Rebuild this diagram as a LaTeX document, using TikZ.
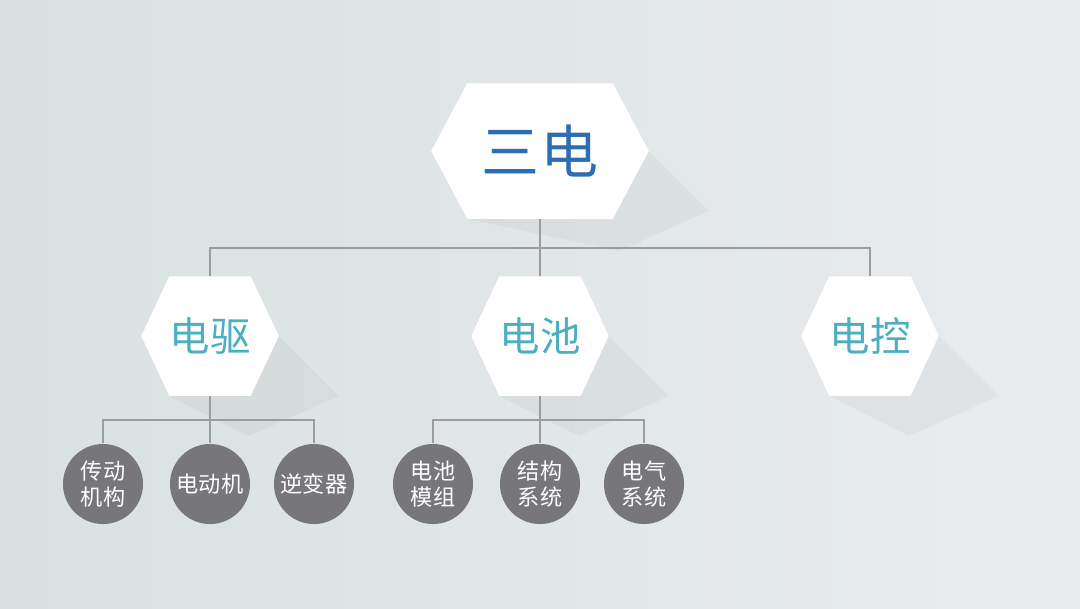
\documentclass[tikz,border=0pt]{standalone}
\usepackage{fontspec}
\setmainfont{Noto Sans CJK SC}
\usetikzlibrary{positioning,calc}
\definecolor{bgleft}{HTML}{D9E1E1}
\definecolor{bgright}{HTML}{E9ECEF}
\definecolor{topblue}{HTML}{2E6DB4}
\definecolor{teal}{HTML}{4BAFC0}
\definecolor{leafgray}{HTML}{77777B}
\definecolor{linkgray}{HTML}{9C9C9C}
\tikzset{
  hexbox/.style={rectangle, inner sep=0pt},
  leaf/.style={circle, fill=leafgray, minimum size=0.8cm, inner sep=0pt,
               text=white, font=\fontsize{6.3}{7.2}\selectfont, align=center},
  link/.style={draw=linkgray, line width=0.6pt},
}
% hexagon with its box node: name, x, y, half width, half height, inset
\newcommand{\hexa}[6]{%
  \node[hexbox, minimum width=#4*0.02cm, minimum height=#5*0.02cm] (#1) at (#2,#3) {};
  \fill[black, opacity=0.03] ($(#1.north east)+(-#6,0)$) -- ($(#1.east)$) -- ++(60,60) -- ++(-90,40) -- ($(#1.south west)+(#6,0)$) -- cycle;
  \fill[white] (#1.west) -- ($(#1.north west)+(#6,0)$) -- ($(#1.north east)+(-#6,0)$)
    -- (#1.east) -- ($(#1.south east)+(-#6,0)$) -- ($(#1.south west)+(#6,0)$) -- cycle;}
\begin{document}
\begin{tikzpicture}[x=0.01cm, y=-0.01cm]
  \shade[left color=bgleft, right color=bgright] (0,0) rectangle (1080,608);
  \useasboundingbox (0,0) rectangle (1080,608);
  % hexagons
  \hexa{top}{540}{151}{108}{67}{36}
  \hexa{drive}{210}{336}{68}{59}{28}
  \hexa{batt}{540}{336}{68}{59}{28}
  \hexa{ctrl}{870}{336}{68}{59}{28}
  \node[text=topblue, font=\fontsize{16.5}{18}\selectfont] at (top) {三电};
  \node[text=teal, font=\fontsize{11.5}{13}\selectfont] at (drive) {电驱};
  \node[text=teal, font=\fontsize{11.5}{13}\selectfont] at (batt) {电池};
  \node[text=teal, font=\fontsize{11.5}{13}\selectfont] at (ctrl) {电控};
  % leaves
  \node[leaf] (gear) at (103,484) {传动\\机构};
  \node[leaf] (motor) at (210,484) {电动机};
  \node[leaf] (inv) at (314,484) {逆变器};
  \node[leaf] (module) at (433,484) {电池\\模组};
  \node[leaf] (struct) at (540,484) {结构\\系统};
  \node[leaf] (elec) at (644,484) {电气\\系统};
  % connectors
  \coordinate (busA) at (540,248);
  \draw[link] (top.south) -- (busA);
  \draw[link] (drive.north) |- (busA) -| (ctrl.north);
  \draw[link] (busA) -- (batt.north);
  \coordinate (busB) at (210,420);
  \draw[link] (drive.south) -- (busB);
  \draw[link] (gear.north) |- (busB) -| (inv.north);
  \draw[link] (busB) -- (motor.north);
  \coordinate (busC) at (540,420);
  \draw[link] (batt.south) -- (busC);
  \draw[link] (module.north) |- (busC) -| (elec.north);
  \draw[link] (busC) -- (struct.north);
\end{tikzpicture}
\end{document}
